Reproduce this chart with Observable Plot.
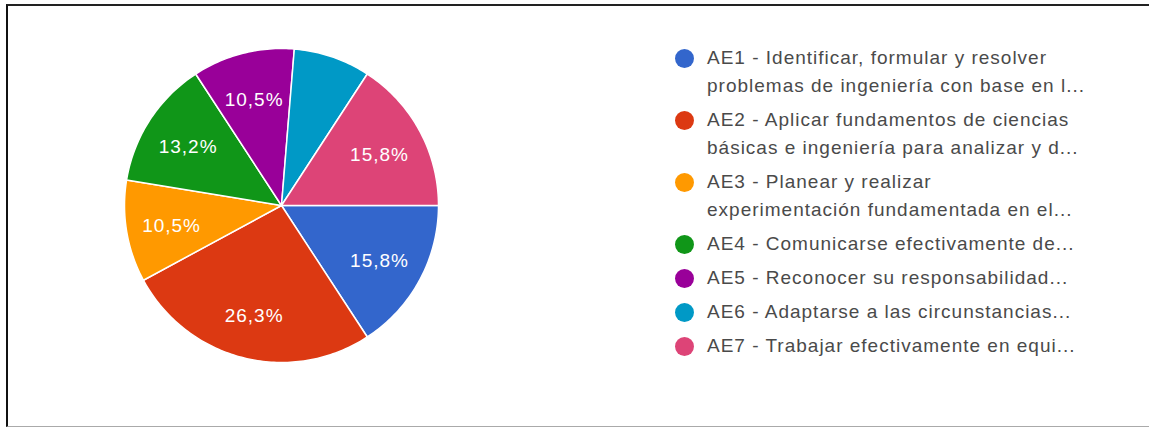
<!DOCTYPE html>
<html>
<head>
<meta charset="utf-8">
<script src="https://cdn.jsdelivr.net/npm/d3@7"></script>
<script src="https://cdn.jsdelivr.net/npm/@observablehq/plot@0.6"></script>
<style>
  html, body { margin: 0; padding: 0; background: #fff; }
  #wrap { position: relative; width: 1149px; height: 427px; overflow: hidden; background: #fff;
          font-family: "Liberation Sans", Arial, sans-serif; }
  #frame { position: absolute; left: 6px; top: 4px; width: 1160px; height: 420px;
           border-left: 2px solid #111; border-top: 2px solid #222; border-bottom: 1px solid #aaa; }
  #pie { position: absolute; left: 0; top: 0; }
  #pie text { letter-spacing: 1px; }
  #legend { position: absolute; left: 675px; top: 44px; }
  .item { display: flex; align-items: flex-start; margin-bottom: 6px; }
  .sw { width: 19px; height: 19px; border-radius: 50%; margin-top: 4.5px; flex: none; }
  .lab { margin-left: 13px; font-size: 19px; letter-spacing: 1px; line-height: 28px; color: #4a4a4a; white-space: pre; }
</style>
</head>
<body>
<div id="wrap">
  <div id="frame"></div>
  <div id="pie"></div>
  <div id="legend"></div>
</div>
<script>
// ---- data ----
const categories = ["AE1", "AE2", "AE3", "AE4", "AE5", "AE6", "AE7"];
const legendLabels = [
  "AE1 - Identificar, formular y resolver\nproblemas de ingeniería con base en l...",
  "AE2 - Aplicar fundamentos de ciencias\nbásicas e ingeniería para analizar y d...",
  "AE3 - Planear y realizar\nexperimentación fundamentada en el...",
  "AE4 - Comunicarse efectivamente de...",
  "AE5 - Reconocer su responsabilidad...",
  "AE6 - Adaptarse a las circunstancias...",
  "AE7 - Trabajar efectivamente en equi..."
];
const percentages = [15.8, 26.3, 10.5, 13.2, 10.5, 7.9, 15.8];
const colors = ["#3366cc", "#dc3912", "#ff9900", "#109618", "#990099", "#0099c6", "#dd4477"];

// ---- pie geometry (angles start at 3 o'clock, clockwise) ----
const total = d3.sum(percentages);
let acc = 0;
const slices = percentages.map((v, i) => {
  const a0 = acc / total * 2 * Math.PI;
  acc += v;
  const a1 = acc / total * 2 * Math.PI;
  return {key: categories[i], value: v, a0, a1, mid: (a0 + a1) / 2};
});
const pts = [];
for (const s of slices) {
  pts.push({key: s.key, x: 0, y: 0});
  const n = Math.max(2, Math.ceil((s.a1 - s.a0) / (Math.PI / 180)));
  for (let k = 0; k <= n; k++) {
    const t = s.a0 + (s.a1 - s.a0) * k / n;
    pts.push({key: s.key, x: Math.cos(t), y: -Math.sin(t)});
  }
  pts.push({key: s.key, x: 0, y: 0});
}
const fmt = v => v.toFixed(1).replace(".", ",") + "%";
const labelled = slices.filter(s => s.value >= 9);

const chart = Plot.plot({
  width: 600,
  height: 427,
  marginLeft: 124,
  marginRight: 162,
  marginTop: 48,
  marginBottom: 65,
  x: {domain: [-1, 1], axis: null},
  y: {domain: [-1, 1], axis: null},
  color: {domain: categories, range: colors},
  style: {background: "transparent", fontFamily: "'Liberation Sans', Arial, sans-serif"},
  marks: [
    Plot.line(pts, {x: "x", y: "y", z: "key", fill: "key", stroke: "#fff", strokeWidth: 1.5,
                    strokeLinejoin: "round", curve: "linear"}),
    Plot.text(labelled, {
      x: d => 0.71 * Math.cos(d.mid),
      y: d => -0.71 * Math.sin(d.mid),
      text: d => fmt(d.value),
      fill: "#fff",
      fontSize: 19,
      dy: 2
    })
  ]
});
document.getElementById("pie").appendChild(chart);

// ---- legend ----
const legend = d3.select("#legend");
legendLabels.forEach((lab, i) => {
  const it = legend.append("div").attr("class", "item");
  it.append("div").attr("class", "sw").style("background", colors[i]);
  it.append("div").attr("class", "lab").text(lab);
});
</script>
</body>
</html>
